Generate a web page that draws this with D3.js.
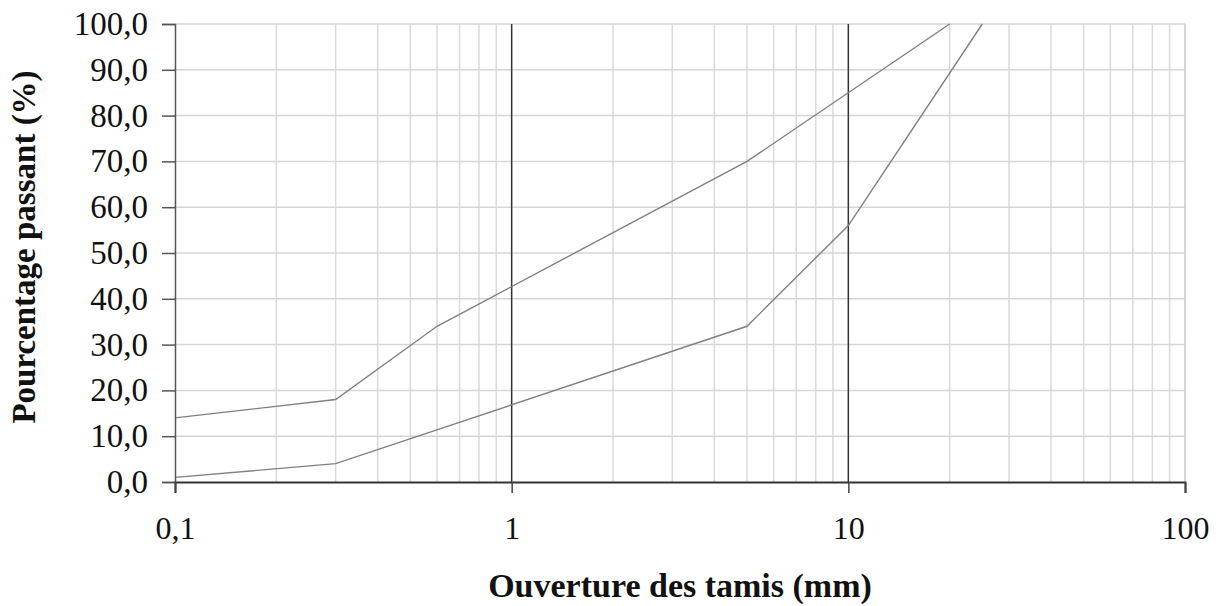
<!DOCTYPE html>
<html>
<head>
<meta charset="utf-8">
<script src="https://cdn.jsdelivr.net/npm/d3@7"></script>
<style>
  html, body { margin: 0; padding: 0; background: #fff; }
  svg { display: block; font-family: "Liberation Serif", "Times New Roman", serif; }
</style>
</head>
<body>
<svg id="chart" width="1222" height="606"></svg>
<script>
// Sieve openings (mm) and percentage passing for the two grading envelope curves
const upperSizes  = [0.1, 0.3, 0.6, 5, 20];
const upperPassing = [14, 18, 34, 70, 100];
const lowerSizes  = [0.1, 0.3, 5, 10, 25];
const lowerPassing = [1, 4, 34, 56, 100];

const xTickValues = [0.1, 1, 10, 100];
const xTickLabels = ["0,1", "1", "10", "100"];
const yTickValues = [0, 10, 20, 30, 40, 50, 60, 70, 80, 90, 100];
const yTickLabels = ["0,0", "10,0", "20,0", "30,0", "40,0", "50,0", "60,0", "70,0", "80,0", "90,0", "100,0"];

const svg = d3.select("#chart");
const margin = { left: 175, right: 37, top: 24, bottom: 124 };
const W = 1222, H = 606;

const x = d3.scaleLog().domain([0.1, 100]).range([margin.left, W - margin.right]);
const y = d3.scaleLinear().domain([0, 100]).range([H - margin.bottom, margin.top]);

// minor vertical grid: 2..9 in each decade
const minor = [];
[0.1, 1, 10].forEach(d => { for (let k = 2; k <= 9; k++) minor.push(+(d * k).toPrecision(3)); });

const grid = svg.append("g");
grid.selectAll(".vminor").data(minor).join("line")
  .attr("x1", d => x(d)).attr("x2", d => x(d))
  .attr("y1", y(0)).attr("y2", y(100))
  .attr("stroke", "#dadada").attr("stroke-width", 1.5);

grid.selectAll(".h").data(yTickValues.filter(v => v > 0)).join("line")
  .attr("x1", x(0.1)).attr("x2", x(100))
  .attr("y1", d => y(d)).attr("y2", d => y(d))
  .attr("stroke", "#d6d6d6").attr("stroke-width", 1.5);

// right border at 100 mm
grid.append("line")
  .attr("x1", x(100)).attr("x2", x(100)).attr("y1", y(0)).attr("y2", y(100))
  .attr("stroke", "#c8c8c8").attr("stroke-width", 1.5);

// decade lines
grid.selectAll(".vmajor").data([1, 10]).join("line")
  .attr("x1", d => x(d)).attr("x2", d => x(d))
  .attr("y1", y(0)).attr("y2", y(100))
  .attr("stroke", "#333").attr("stroke-width", 1.5);

// curves
const line = d3.line().x(d => x(d[0])).y(d => y(d[1]));
const curves = [
  d3.zip(upperSizes, upperPassing),
  d3.zip(lowerSizes, lowerPassing)
];
svg.append("g").selectAll("path").data(curves).join("path")
  .attr("d", line)
  .attr("fill", "none")
  .attr("stroke", "#808080")
  .attr("stroke-width", 1.4);

// y axis
const yAxis = d3.axisLeft(y).tickValues(yTickValues)
  .tickFormat((d, i) => yTickLabels[i]).tickSize(13).tickPadding(14);
const gy = svg.append("g").attr("transform", `translate(${margin.left},0)`).call(yAxis);
gy.select(".domain").attr("stroke", "#555").attr("stroke-width", 1.5);
gy.selectAll(".tick line").attr("stroke", "#555").attr("stroke-width", 1.5);
gy.selectAll(".tick text").attr("font-size", 33).attr("fill", "#111")
  .attr("font-family", "Liberation Serif");

// x axis
const xAxis = d3.axisBottom(x).tickValues(xTickValues)
  .tickFormat((d, i) => xTickLabels[i]).tickSize(11).tickPadding(23);
const gx = svg.append("g").attr("transform", `translate(0,${y(0)})`).call(xAxis);
gx.select(".domain").attr("stroke", "#333").attr("stroke-width", 2);
gx.selectAll(".tick line").attr("stroke", "#444").attr("stroke-width", 1.5);
gx.selectAll(".tick text").attr("font-size", 32).attr("fill", "#111")
  .attr("font-family", "Liberation Serif");

// axis titles
svg.append("text")
  .attr("x", (x(0.1) + x(100)) / 2).attr("y", 597)
  .attr("text-anchor", "middle").attr("font-weight", "bold")
  .attr("font-size", 34).attr("fill", "#111")
  .text("Ouverture des tamis (mm)");

svg.append("text")
  .attr("transform", "translate(35,247) rotate(-90)")
  .attr("text-anchor", "middle").attr("font-weight", "bold")
  .attr("font-size", 33).attr("fill", "#111")
  .text("Pourcentage passant (%)");
</script>
</body>
</html>
